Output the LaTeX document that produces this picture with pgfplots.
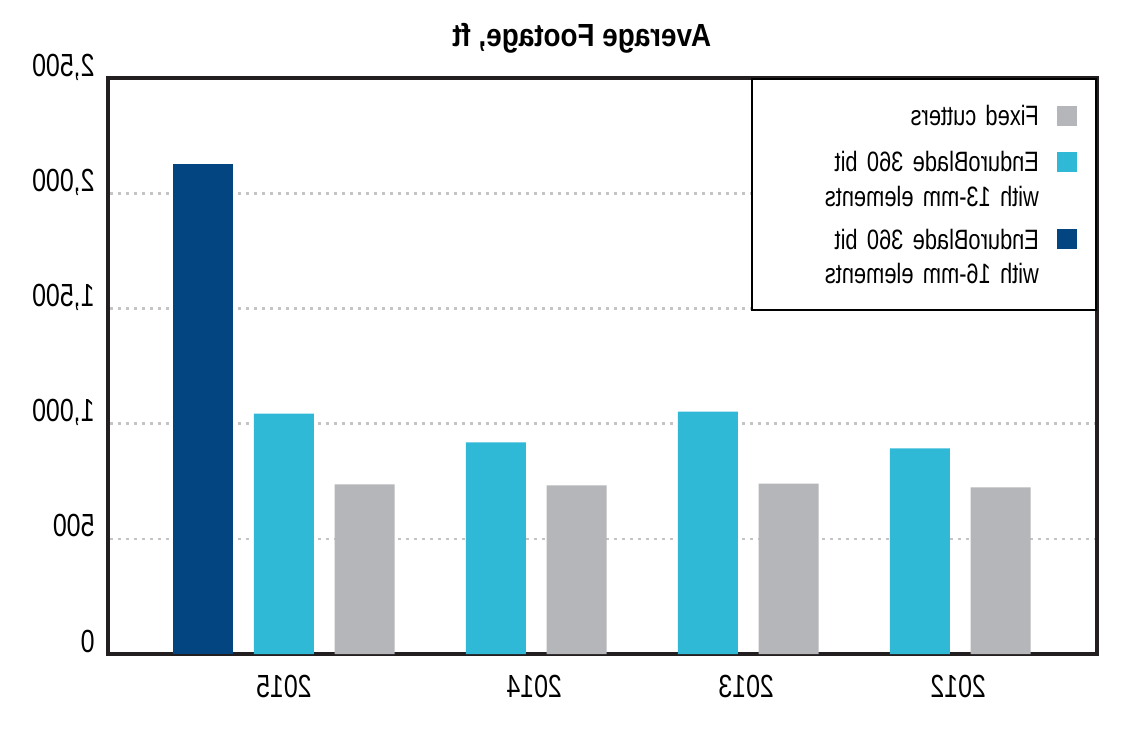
\documentclass[border=0pt]{standalone}
\usepackage{graphicx}
\usepackage{fontspec}
\setmainfont{Liberation Sans}[FakeStretch=0.78]
\newfontfamily\titlefont{Liberation Sans}[FakeStretch=0.87]
\usepackage{pgfplots}
\pgfplotsset{compat=1.18}

\definecolor{fixedgray}{HTML}{B5B6B9}
\definecolor{bladecyan}{HTML}{2FB9D6}
\definecolor{bladedark}{HTML}{034580}
\definecolor{framec}{HTML}{231F20}
\definecolor{gridc}{HTML}{C4C4C4}

\pgfplotsset{sq/.style={legend image code/.code={\fill[##1] (0pt,0pt) rectangle (10pt,10pt);}}}

% the reference is a mirror image: the chart is drawn as it was, then reflected
\begin{document}
\reflectbox{%
\begin{tikzpicture}
\useasboundingbox (0,0) rectangle (565pt,365pt);
\begin{axis}[
    at={(16.5pt,38pt)}, anchor=south west,
    width=494.5pt, height=288pt, scale only axis,
    xmin=0.165, xmax=4.83,
    ymin=0, ymax=2500,
    ybar, bar width=0.283,
    axis line style={line width=1.8pt, color=framec},
    major tick length=0pt,
    xtick={0.82,1.82,2.82,4.0},
    xticklabels={2012,2013,2014,2015},
    ytick={0,500,1000,1500,2000,2500},
    yticklabel pos=right,
    /pgf/number format/.cd, 1000 sep={,}, assume math mode=true,
    /pgfplots/.cd,
    ticklabel style={font=\fontsize{16}{19}\selectfont, inner sep=0pt, text=black},
    xticklabel style={anchor=base, yshift=-21.5pt},
    yticklabel style={anchor=base west, xshift=6.5pt, yshift=1pt},
    ymajorgrids,
    grid style={line width=1.3pt, color=gridc, dash pattern=on 1.3pt off 2.7pt},
    title={Average Footage, ft},
    title style={at={(0.521,1)}, anchor=base, yshift=10pt, inner sep=0pt,
        font=\titlefont\bfseries\fontsize{16}{19}\selectfont},
    legend style={at={(0,1)}, anchor=north west, draw=black, line width=1pt,
        inner xsep=9.7pt, inner ysep=13.25pt, row sep=0pt, column sep=8.8pt,
        font=\fontsize{14}{17}\selectfont,
        nodes={inner sep=0pt, text depth=0pt},
        cells={anchor=base west, align=left, text width=134pt, inner sep=0pt,
            text height=10pt, text depth=0pt}},
]
\addplot[sq, fill=fixedgray, draw=none, bar shift=-0.38] coordinates {
    (1,723) (2,740) (3,732) (4,736)
};
\addlegendentry{Fixed cutters}
\addplot[sq, fill=bladecyan, draw=none, bar shift=0] coordinates {
    (1,892) (2,1052) (3,918) (4,1043)
};
\addlegendentry[text height=23pt]{EnduroBlade 360 bit}
\addlegendimage{empty legend}
\addlegendentry[text height=17.25pt]{with 13-mm elements}
\addplot[sq, fill=bladedark, draw=none, bar shift=0.38] coordinates {
    (4,2125)
};
\addlegendentry[text height=21.5pt]{EnduroBlade 360 bit}
\addlegendimage{empty legend}
\addlegendentry[text height=17.25pt]{with 16-mm elements}
\end{axis}
\end{tikzpicture}}
\end{document}
